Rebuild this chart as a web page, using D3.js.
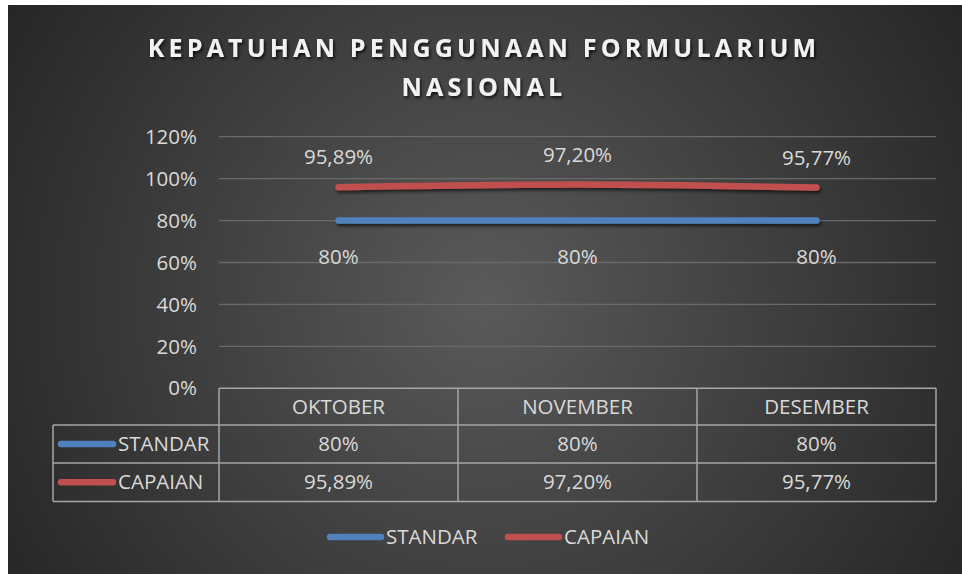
<!DOCTYPE html>
<html lang="id">
<head>
<meta charset="utf-8">
<title>Kepatuhan Penggunaan Formularium Nasional</title>
<script src="https://d3js.org/d3.v7.min.js"></script>
<style>
  body { margin: 0; background: #ffffff; }
  svg { display: block; font-family: "Open Sans", "DejaVu Sans", sans-serif; }
</style>
</head>
<body>
<script>
// data
var months = ["OKTOBER", "NOVEMBER", "DESEMBER"];
var standar = [80, 80, 80];
var capaian = [95.89, 97.20, 95.77];
var seriesNames = ["STANDAR", "CAPAIAN"];
var seriesColors = ["#4f81bd", "#c0504d"];
var seriesDecimals = [0, 2];
var yTicks = [0, 20, 40, 60, 80, 100, 120];
var titleLines = ["KEPATUHAN PENGGUNAAN FORMULARIUM", "NASIONAL"];

var W = 962, H = 574;
var plot = {left: 219, right: 936, top: 136.7, bottom: 388.3};
var tableRows = {header: [388.3, 425], rows: [[425, 463], [463, 501.5]]};
var legendColLeft = 53;
var fs = "20.5px";

var locale = d3.formatLocale({decimal: ",", thousands: ".", grouping: [3], currency: ["", ""]});
function fmt(v, dec) { return locale.format("." + dec + "f")(v) + "%"; }

var svg = d3.select("body").append("svg")
    .attr("width", W)
    .attr("height", H);

var defs = svg.append("defs");
var grad = defs.append("radialGradient")
    .attr("id", "bg")
    .attr("gradientUnits", "userSpaceOnUse")
    .attr("cx", 485).attr("cy", 300).attr("r", 560);
grad.append("stop").attr("offset", "0%").attr("stop-color", "#5a5a5a");
grad.append("stop").attr("offset", "100%").attr("stop-color", "#262626");

var shadow = defs.append("filter").attr("id", "tshadow")
    .attr("x", "-10%").attr("y", "-30%").attr("width", "120%").attr("height", "160%");
shadow.append("feDropShadow")
    .attr("dx", 1.5).attr("dy", 2).attr("stdDeviation", 1.5)
    .attr("flood-color", "#000").attr("flood-opacity", 0.75);

// user-space region so flat lines are not clipped away
var lshadow = defs.append("filter").attr("id", "lshadow")
    .attr("filterUnits", "userSpaceOnUse")
    .attr("x", 0).attr("y", 0).attr("width", W).attr("height", H);
lshadow.append("feDropShadow")
    .attr("dx", 1.5).attr("dy", 2.5).attr("stdDeviation", 1.5)
    .attr("flood-color", "#000").attr("flood-opacity", 0.6);

svg.append("rect")
    .attr("x", 8).attr("y", 5)
    .attr("width", W - 8).attr("height", H - 5)
    .attr("fill", "url(#bg)");

// title
svg.append("g").selectAll("text")
    .data(titleLines)
    .enter().append("text")
    .attr("x", 484)
    .attr("y", function(d, i) { return 57 + i * 39; })
    .attr("text-anchor", "middle")
    .attr("fill", "#f2f2f2")
    .attr("font-size", "25px")
    .attr("font-weight", "bold")
    .attr("letter-spacing", "4.2px")
    .attr("filter", "url(#tshadow)")
    .text(function(d) { return d; });

var x = d3.scaleBand()
    .domain(months)
    .range([plot.left, plot.right]);

var y = d3.scaleLinear()
    .domain([0, 120])
    .range([plot.bottom, plot.top]);

// gridlines
svg.append("g").selectAll("line")
    .data(yTicks.filter(function(t) { return t > 0; }))
    .enter().append("line")
    .attr("x1", plot.left).attr("x2", plot.right)
    .attr("y1", function(d) { return y(d); })
    .attr("y2", function(d) { return y(d); })
    .attr("stroke", "#6a6a6a")
    .attr("stroke-width", 1.3);

// y axis labels
svg.append("g").selectAll("text")
    .data(yTicks)
    .enter().append("text")
    .attr("x", 197)
    .attr("y", function(d) { return y(d); })
    .attr("dy", "0.35em")
    .attr("text-anchor", "end")
    .attr("fill", "#d9d9d9")
    .attr("font-size", fs)
    .text(function(d) { return d + "%"; });

var series = [standar, capaian];
var line = d3.line()
    .x(function(d, i) { return x(months[i]) + x.bandwidth() / 2; })
    .y(function(d) { return y(d); })
    .curve(d3.curveMonotoneX);

svg.append("g").selectAll("path")
    .data(series)
    .enter().append("path")
    .attr("d", line)
    .attr("fill", "none")
    .attr("stroke", function(d, i) { return seriesColors[i]; })
    .attr("stroke-width", 6.5)
    .attr("stroke-linecap", "round")
    .attr("filter", "url(#lshadow)");

// data labels: standar below, capaian above
series.forEach(function(vals, s) {
    svg.append("g").selectAll("text")
        .data(vals)
        .enter().append("text")
        .attr("x", function(d, i) { return x(months[i]) + x.bandwidth() / 2; })
        .attr("y", function(d) { return s === 0 ? y(d) + 36 : y(d) - 30; })
        .attr("dy", "0.35em")
        .attr("text-anchor", "middle")
        .attr("fill", "#d9d9d9")
        .attr("font-size", fs)
        .text(function(d) { return fmt(d, seriesDecimals[s]); });
});

// data table
var tbl = svg.append("g")
    .attr("stroke", "#a6a6a6")
    .attr("stroke-width", 1.5)
    .attr("fill", "none");

tbl.append("line")
    .attr("x1", plot.left).attr("x2", plot.right)
    .attr("y1", tableRows.header[0]).attr("y2", tableRows.header[0]);
tbl.append("line")
    .attr("x1", legendColLeft).attr("x2", plot.right)
    .attr("y1", tableRows.header[1]).attr("y2", tableRows.header[1]);
tbl.append("line")
    .attr("x1", legendColLeft).attr("x2", plot.right)
    .attr("y1", tableRows.rows[0][1]).attr("y2", tableRows.rows[0][1]);
tbl.append("line")
    .attr("x1", legendColLeft).attr("x2", plot.right)
    .attr("y1", tableRows.rows[1][1]).attr("y2", tableRows.rows[1][1]);
tbl.append("line")
    .attr("x1", legendColLeft).attr("x2", legendColLeft)
    .attr("y1", tableRows.header[1]).attr("y2", tableRows.rows[1][1]);
tbl.selectAll(".vsep")
    .data(months.map(function(m) { return x(m); }).concat([plot.right]))
    .enter().append("line")
    .attr("class", "vsep")
    .attr("x1", function(d) { return d; }).attr("x2", function(d) { return d; })
    .attr("y1", tableRows.header[0]).attr("y2", tableRows.rows[1][1]);

svg.append("g").selectAll("text")
    .data(months)
    .enter().append("text")
    .attr("x", function(d) { return x(d) + x.bandwidth() / 2; })
    .attr("y", (tableRows.header[0] + tableRows.header[1]) / 2)
    .attr("dy", "0.35em")
    .attr("text-anchor", "middle")
    .attr("fill", "#d9d9d9")
    .attr("font-size", fs)
    .text(function(d) { return d; });

series.forEach(function(vals, s) {
    var row = tableRows.rows[s];
    var cy = (row[0] + row[1]) / 2;
    var g = svg.append("g");
    g.selectAll("text")
        .data(vals)
        .enter().append("text")
        .attr("x", function(d, i) { return x(months[i]) + x.bandwidth() / 2; })
        .attr("y", cy)
        .attr("dy", "0.35em")
        .attr("text-anchor", "middle")
        .attr("fill", "#d9d9d9")
        .attr("font-size", fs)
        .text(function(d) { return fmt(d, seriesDecimals[s]); });
    g.append("line")
        .attr("x1", 61).attr("x2", 113)
        .attr("y1", cy).attr("y2", cy)
        .attr("stroke", seriesColors[s])
        .attr("stroke-width", 6.5)
        .attr("stroke-linecap", "round");
    g.append("text")
        .attr("x", 118)
        .attr("y", cy)
        .attr("dy", "0.35em")
        .attr("fill", "#d9d9d9")
        .attr("font-size", fs)
        .text(seriesNames[s]);
});

// legend
var legendX = [330, 508];
seriesNames.forEach(function(name, s) {
    var g = svg.append("g").attr("transform", "translate(" + legendX[s] + ",537)");
    g.append("line")
        .attr("x1", 0).attr("x2", 51)
        .attr("stroke", seriesColors[s])
        .attr("stroke-width", 6.5)
        .attr("stroke-linecap", "round");
    g.append("text")
        .attr("x", 56)
        .attr("dy", "0.35em")
        .attr("fill", "#d9d9d9")
        .attr("font-size", fs)
        .text(name);
});
</script>
</body>
</html>
